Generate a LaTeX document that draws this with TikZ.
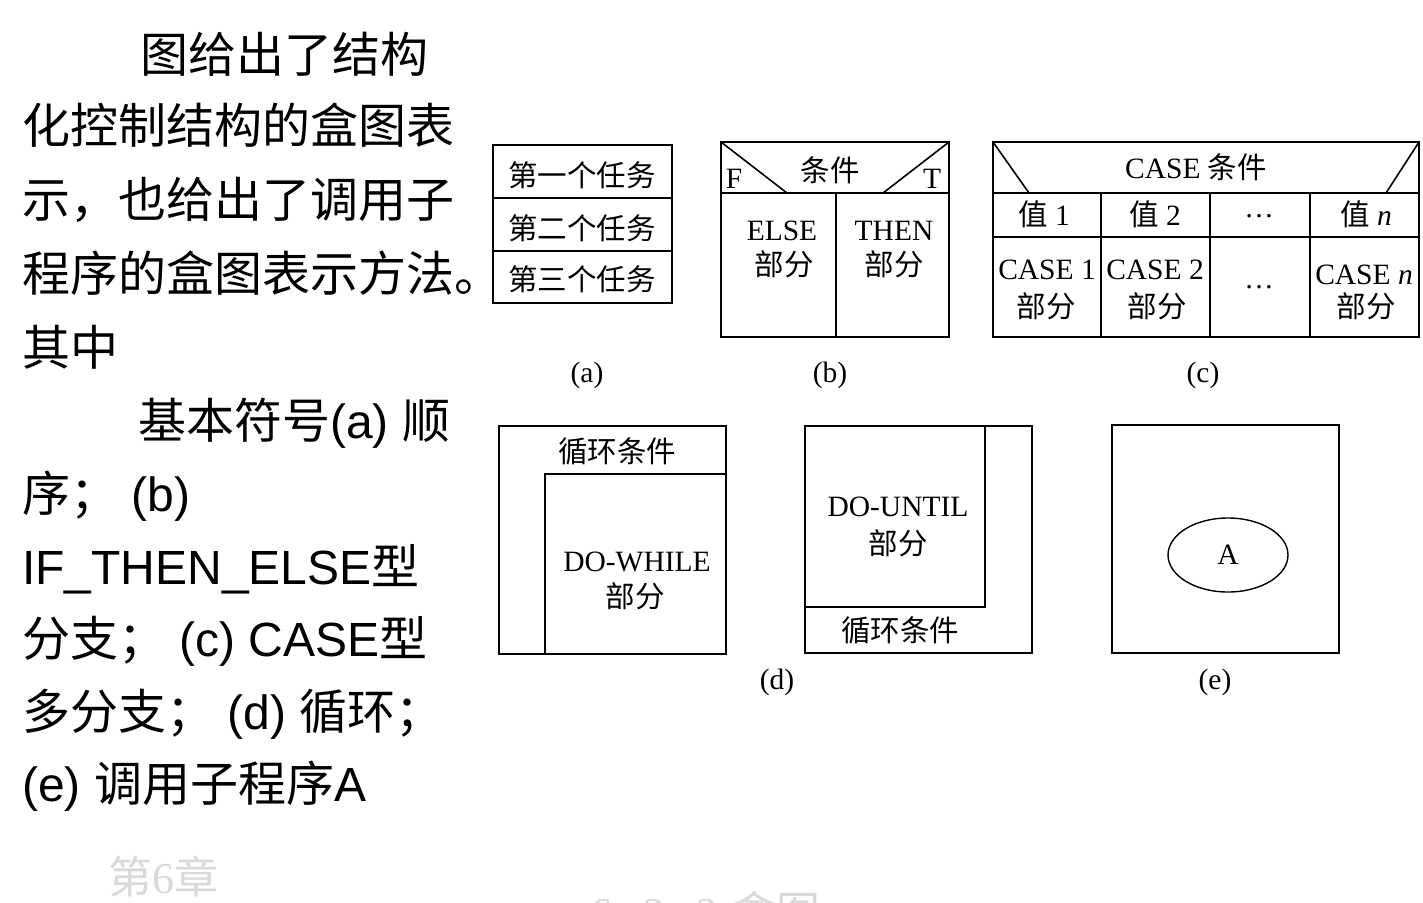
\documentclass[tikz,border=0pt]{standalone}
\usepackage{fontspec}
\setmainfont{Liberation Serif}
\newfontfamily\cjk{Noto Sans CJK SC}
\newfontfamily\sansf{Liberation Sans}
\usetikzlibrary{shapes.geometric}

\newcommand\zh[1]{{\cjk #1}}
\newcommand\bodysize{\fontsize{48}{56}\selectfont}
\newcommand\figsize{\fontsize{29.5}{34}\selectfont}
\definecolor{faint}{HTML}{D9D9D9}

\tikzset{
  frame/.style={line width=1.6pt},
  para/.style={anchor=base west, inner sep=0pt, font=\sansf\bodysize},
  lbl/.style={inner sep=0pt, font=\figsize},
  sub/.style={inner sep=0pt, font=\figsize},
  ghost/.style={inner sep=0pt, text=faint, anchor=west},
}

\begin{document}
\begin{tikzpicture}[x=1pt,y=-1pt]
\useasboundingbox[fill=white] (0,0) rectangle (1423,902);

% ---- explanatory paragraph on the left ----
\node[para] (p1)  at (140,72)  {\zh{图给出了结构}};
\node[para] (p2)  at (22,143)  {\zh{化控制结构的盒图表}};
\node[para] (p3)  at (22,217)  {\zh{示，也给出了调用子}};
\node[para] (p4)  at (22,291)  {\zh{程序的盒图表示方法。}};
\node[para] (p5)  at (22,365)  {\zh{其中}};
\node[para] (p6)  at (138,438) {\zh{基本符号}(a) \zh{顺}};
\node[para] (p7)  at (22,511)  {\zh{序；} (b)};
\node[para] (p8)  at (22,584)  {IF\_THEN\_ELSE\zh{型}};
\node[para] (p9)  at (22,656)  {\zh{分支；} (c) CASE\zh{型}};
\node[para] (p10) at (22,729)  {\zh{多分支；} (d) \zh{循环；}};
\node[para] (p11) at (22,801)  {(e) \zh{调用子程序}A};

% ---- (a) sequence ----
\draw[frame] (493,145) rectangle (672,303);
\draw[frame] (493,198) -- (672,198);
\draw[frame] (493,251) -- (672,251);
\node[lbl] (a1) at (582,175) {\zh{第一个任务}};
\node[lbl] (a2) at (582,228) {\zh{第二个任务}};
\node[lbl] (a3) at (582,279) {\zh{第三个任务}};
\node[sub] (capa) at (587,375) {(a)};

% ---- (b) IF_THEN_ELSE ----
\draw[frame] (721,142) rectangle (949,337);
\draw[frame] (721,193) -- (949,193);
\draw[frame] (721,142) -- (787,193);
\draw[frame] (949,142) -- (883,193);
\draw[frame] (836,193) -- (836,337);
\node[lbl] (bcond) at (830,170) {\zh{条件}};
\node[lbl] (bF) at (734,179) {F};
\node[lbl] (bT) at (932,179) {T};
\node[lbl] (belse) at (782,231) {ELSE};
\node[lbl] (belsep) at (784,264) {\zh{部分}};
\node[lbl] (bthen) at (894,231) {THEN};
\node[lbl] (bthenp) at (894,264) {\zh{部分}};
\node[sub] (capb) at (830,375) {(b)};

% ---- (c) CASE ----
\draw[frame] (993,142) rectangle (1419,337);
\draw[frame] (993,193) -- (1419,193);
\draw[frame] (993,237) -- (1419,237);
\draw[frame] (993,142) -- (1029,193);
\draw[frame] (1419,142) -- (1386,193);
\foreach \cx in {1101,1210,1310} \draw[frame] (\cx,193) -- (\cx,337);
\node[lbl] (ccond) at (1196,167) {CASE \zh{条件}};
\node[lbl] (cv1) at (1044,214) {\zh{值} 1};
\node[lbl] (cv2) at (1155,214) {\zh{值} 2};
\node[lbl] (cvd) at (1259,216) {\dots};
\node[lbl] (cvn) at (1366,214) {\zh{值} \textit{n}};
\node[lbl] (cc1) at (1047,270) {CASE 1};
\node[lbl] (cc1p) at (1046,306) {\zh{部分}};
\node[lbl] (cc2) at (1155,270) {CASE 2};
\node[lbl] (cc2p) at (1157,306) {\zh{部分}};
\node[lbl] (ccd) at (1259,287) {\dots};
\node[lbl] (ccn) at (1364,275) {CASE \textit{n}};
\node[lbl] (ccnp) at (1366,306) {\zh{部分}};
\node[sub] (capc) at (1203,375) {(c)};

% ---- (d) loops ----
\draw[frame] (499,426) rectangle (726,654);
\draw[frame] (545,654) -- (545,474) -- (726,474);
\node[lbl] (dwcond) at (617,451) {\zh{循环条件}};
\node[lbl] (dw) at (637,562) {DO-WHILE};
\node[lbl] (dwp) at (635,596) {\zh{部分}};

\draw[frame] (805,426) rectangle (1032,653);
\draw[frame] (985,426) -- (985,607) -- (805,607);
\node[lbl] (du) at (898,507) {DO-UNTIL};
\node[lbl] (dup) at (898,543) {\zh{部分}};
\node[lbl] (ducond) at (900,630) {\zh{循环条件}};
\node[sub] (capd) at (777,682) {(d)};

% ---- (e) subroutine call ----
\draw[frame] (1112,425) rectangle (1339,653);
\node[draw, ellipse, line width=1.4pt, minimum width=120, minimum height=74,
      inner sep=0pt, font=\figsize] (callA) at (1228,555) {A};
\node[sub] (cape) at (1215,682) {(e)};

% ---- faint footer ----
\node[ghost, font=\fontsize{44}{48}\selectfont] (chap) at (108,876)
  {\zh{第}6\zh{章}};
\node[ghost, font=\fontsize{44}{48}\selectfont] (sect) at (590,912)
  {6\kern10pt.\kern10pt2\kern10pt.\kern10pt2\kern14pt\zh{盒图}};
\end{tikzpicture}
\end{document}
